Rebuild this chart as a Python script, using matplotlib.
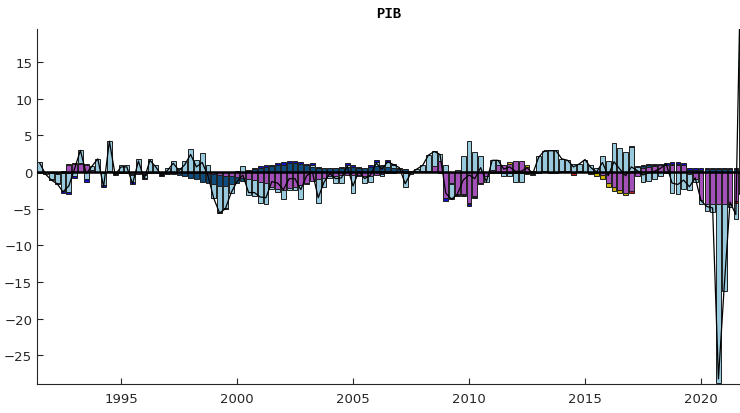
import numpy as np
import matplotlib.pyplot as plt

# quarterly dates, one bar per quarter
quarters = 1991.5 + 0.25 * np.arange(122)

# shock contributions to GDP growth
purple = [0.0, 0.0, -0.1, -0.1, 0.2, 1.0, 1.1, 1.1, 1.0, 0.3,
          0.0, -0.1, 0.1, -0.2, -0.2, -0.2, -0.3, -0.3, -0.3, -0.2,
          -0.2, -0.1, -0.1, 0.0, 0.0, 0.0, -0.1, -0.1, -0.2, -0.3,
          -0.3, -0.4, -0.5, -0.6, -0.7, -0.8, -0.9, -1.1, -1.3, -1.5,
          -2.0, -2.3, -2.5, -2.2, -2.0, -1.8, -1.5, -1.2, -1.0, -0.8,
          -0.6, -0.5, -0.4, -0.4, -0.4, -0.4, -0.5, -0.5, -0.4, -0.3,
          -0.2, -0.1, 0.0, 0.1, 0.0, 0.0, 0.0, 0.1, 0.8, 1.5,
          -3.5, -1.5, -3.0, -3.0, -4.2, -3.3, -1.5, -0.5, 0.3, 0.9,
          0.9, 1.1, 1.5, 1.5, 0.7, 0.2, -0.1, 0.1, -0.1, -0.1,
          0.1, 0.1, -0.1, 0.1, 0.0, -0.1, -0.2, -0.4, -1.5, -2.1,
          -2.5, -2.9, -2.6, -0.6, 0.6, 0.7, 0.8, 0.9, 0.9, 1.0,
          1.0, 0.9, -0.3, -1.0, -3.8, -4.3, -4.3, -4.3, -4.3, -4.3,
          -4.0, -3.0]

yellow = [0.0, 0.0, 0.0, 0.0, 0.0, 0.1, 0.15, 0.15, 0.1, 0.0,
          0.0, 0.0, 0.0, 0.0, 0.0, 0.0, 0.0, 0.0, 0.0, 0.0,
          0.0, 0.0, 0.0, 0.0, 0.0, 0.0, 0.0, 0.0, 0.0, 0.0,
          0.0, 0.0, 0.0, 0.0, 0.0, 0.0, 0.0, 0.0, 0.0, 0.0,
          0.0, 0.0, 0.0, 0.0, 0.0, 0.0, 0.0, 0.0, 0.0, 0.0,
          0.0, 0.0, 0.0, 0.0, 0.0, 0.0, 0.0, 0.1, 0.0, 0.1,
          0.0, 0.0, 0.0, 0.0, 0.0, 0.0, 0.0, 0.0, 0.0, 0.0,
          0.0, 0.0, 0.0, 0.0, 0.0, 0.0, 0.0, 0.0, 0.0, 0.0,
          0.0, 0.2, 0.0, 0.0, 0.2, 0.0, 0.0, 0.0, 0.0, 0.0,
          0.0, 0.0, 0.0, 0.0, 0.0, 0.0, -0.4, -0.5, -0.5, -0.5,
          -0.4, -0.3, 0.0, 0.0, 0.0, 0.0, 0.0, 0.0, 0.0, 0.0,
          0.0, 0.0, 0.0, 0.0, 0.0, 0.0, 0.0, 0.0, 0.0, 0.0,
          0.0, 0.0]

red = [0.0, 0.0, 0.0, 0.0, 0.0, 0.0, 0.0, 0.0, 0.0, 0.0,
       0.0, 0.0, 0.0, 0.0, 0.0, 0.0, 0.0, 0.0, 0.0, 0.0,
       0.0, 0.0, 0.0, 0.0, 0.0, 0.0, 0.0, 0.0, 0.0, 0.0,
       0.0, 0.0, 0.0, 0.0, 0.0, 0.0, 0.0, 0.0, 0.0, 0.0,
       0.0, 0.0, 0.0, 0.0, 0.0, 0.0, 0.0, 0.0, 0.0, 0.0,
       0.0, 0.0, 0.0, 0.0, 0.0, 0.0, 0.0, 0.0, 0.1, 0.0,
       0.1, 0.0, 0.0, -0.2, 0.0, 0.0, 0.0, 0.0, 0.0, -0.1,
       0.0, 0.0, 0.0, 0.0, 0.0, 0.0, -0.1, 0.0, 0.0, 0.0,
       0.0, 0.0, 0.0, 0.0, 0.0, -0.2, -0.1, 0.0, 0.0, 0.0,
       0.0, 0.0, -0.3, 0.0, 0.0, -0.2, 0.0, 0.0, 0.0, 0.0,
       0.0, 0.0, -0.2, 0.0, 0.0, 0.0, 0.0, 0.0, 0.0, 0.0,
       0.0, 0.0, 0.0, 0.0, 0.0, 0.0, 0.0, 0.0, 0.0, 0.0,
       -0.2, 0.0]

navy = [-0.1, 0.0, -0.1, -0.2, -0.2, -0.1, 0.0, 0.0, 0.0, 0.0,
        0.0, -0.1, 0.0, -0.1, 0.0, 0.0, -0.1, 0.0, -0.1, 0.0,
        0.0, -0.2, -0.2, -0.3, -0.4, -0.5, -0.7, -0.9, -1.1, -1.2,
        -1.4, -1.5, -1.4, -1.1, -0.8, -0.4, 0.2, 0.4, 0.6, 0.7,
        0.8, 0.9, 1.0, 1.2, 1.2, 1.1, 0.9, 0.7, 0.6, 0.5,
        0.5, 0.5, 0.6, 0.7, 0.7, 0.6, 0.5, 0.6, 0.7, 0.7,
        0.6, 0.5, 0.4, 0.3, 0.2, 0.1, 0.1, 0.0, 0.0, 0.0,
        -0.1, -0.1, -0.1, -0.1, -0.1, -0.1, 0.0, 0.0, -0.1, -0.1,
        -0.1, -0.1, -0.1, -0.1, -0.1, -0.1, 0.0, 0.0, 0.0, 0.0,
        0.0, 0.0, 0.0, 0.0, 0.0, 0.0, 0.0, 0.0, 0.0, 0.0,
        0.0, 0.0, 0.1, 0.2, 0.2, 0.2, 0.2, 0.1, 0.1, 0.1,
        0.1, 0.1, 0.3, 0.3, 0.3, 0.4, 0.4, 0.4, 0.4, 0.4,
        0.4, 0.4]

lightblue = [1.3, -0.3, -0.8, -1.2, -2.4, -2.6, -0.6, 1.7, -1.0, 0.5,
             1.8, -1.6, 4.1, -0.1, 0.9, 0.9, -1.0, 1.8, -0.4, 1.8,
             0.9, -0.1, 0.5, 1.5, 0.6, 1.5, 3.2, 1.7, 2.6, 1.0,
             -1.8, -3.5, -3.0, -1.1, 0.2, 0.8, -2.2, -2.2, -2.9, -2.9,
             -0.3, -0.4, -1.2, -0.2, -0.4, -1.9, -0.1, 0.3, -3.2, -1.2,
             -0.2, -1.0, -1.1, 0.3, -2.4, -0.2, -1.0, -0.8, 0.6, -0.3,
             0.7, 0.5, 0.1, -1.8, -0.3, 0.3, 0.8, 2.2, 2.0, 1.0,
             1.0, -2.0, 0.3, 2.2, 4.2, 2.7, 2.2, -0.8, 1.4, 0.8,
             -0.4, -0.5, -1.3, -1.3, -0.2, -0.1, 2.2, 2.8, 3.0, 3.0,
             1.7, 1.5, 1.1, 1.0, 1.7, 0.9, 0.6, 2.2, 1.5, 4.0,
             3.3, 2.7, 3.3, 0.5, -1.4, -1.2, -1.0, -0.6, -0.1, -2.8,
             -3.0, -2.3, -2.2, -0.3, -0.6, -1.0, -1.2, -24.5, -11.9, -0.4,
             -2.2, 37.0]

blue = [0.0, 0.0, -0.1, -0.1, -0.3, -0.3, -0.2, 0.0, -0.3, 0.0,
        0.0, -0.2, 0.0, 0.0, 0.0, 0.0, -0.2, 0.0, -0.1, 0.0,
        0.0, -0.1, 0.0, 0.0, 0.0, 0.0, 0.0, 0.0, 0.0, 0.0,
        -0.1, -0.2, -0.1, 0.0, 0.0, 0.0, 0.1, 0.1, 0.2, 0.2,
        0.2, 0.3, 0.3, 0.3, 0.3, 0.2, 0.2, 0.2, 0.1, 0.1,
        0.1, 0.1, 0.1, 0.2, 0.2, 0.1, 0.1, 0.2, 0.2, 0.2,
        0.2, 0.1, 0.1, 0.0, 0.0, 0.0, 0.0, 0.0, 0.0, 0.0,
        -0.3, -0.1, -0.2, -0.2, -0.3, -0.2, 0.0, 0.0, 0.0, 0.0,
        0.0, 0.0, 0.0, 0.0, 0.0, 0.0, 0.0, 0.0, 0.0, 0.0,
        0.0, 0.0, 0.0, 0.0, 0.0, 0.0, 0.0, 0.0, 0.0, 0.0,
        0.0, 0.0, 0.1, 0.1, 0.2, 0.2, 0.1, 0.1, 0.2, 0.2,
        0.2, 0.2, 0.2, 0.2, 0.2, 0.2, 0.2, 0.2, 0.2, 0.2,
        0.2, 0.2]

# stacking order, from the zero line outwards
series = [purple, yellow, red, navy, lightblue, blue]
colors = ['#a450b9', '#c8b400', '#c81e1e', '#0e4c7e', '#98c9dd', '#1212c8']

vals = np.array(series)
total = vals.sum(axis=0)
pos = np.clip(vals, 0, None)
neg = np.clip(vals, None, 0)
pos_base = np.vstack([np.zeros(len(quarters)), np.cumsum(pos, axis=0)[:-1]])
neg_base = np.vstack([np.zeros(len(quarters)), np.cumsum(neg, axis=0)[:-1]])

fig = plt.figure(figsize=(7.4, 4.14), dpi=100)
ax = fig.add_axes([37 / 740, 1 - 385 / 414, 703 / 740, 355 / 414])

for i, c in enumerate(colors):
    for part, base in ((pos[i], pos_base[i]), (neg[i], neg_base[i])):
        m = part != 0
        ax.bar(quarters[m], part[m], bottom=base[m], width=0.2,
               color=c, edgecolor='#1e1e1e', linewidth=0.7, zorder=2)

ax.axhline(0, color='k', linewidth=1.8, zorder=3)
ax.plot(quarters, total, color='k', linewidth=0.9, zorder=4)

ax.set_xlim(1991.38, 2021.68)
ax.set_ylim(-28.9, 19.5)
ax.set_xticks(range(1995, 2021, 5))
ax.set_yticks(range(-25, 16, 5))
ax.tick_params(direction='in', length=4, width=0.8, colors='#262626',
               labelsize=9.5)
ax.tick_params(axis='x', pad=6)
for s in ('top', 'right'):
    ax.spines[s].set_visible(False)
for s in ('left', 'bottom'):
    ax.spines[s].set_color('#262626')
    ax.spines[s].set_linewidth(0.8)

ax.set_title('PIB', fontsize=10, fontweight='bold', family='Liberation Mono',
             pad=9)

fig.savefig('out.png', dpi=100)
